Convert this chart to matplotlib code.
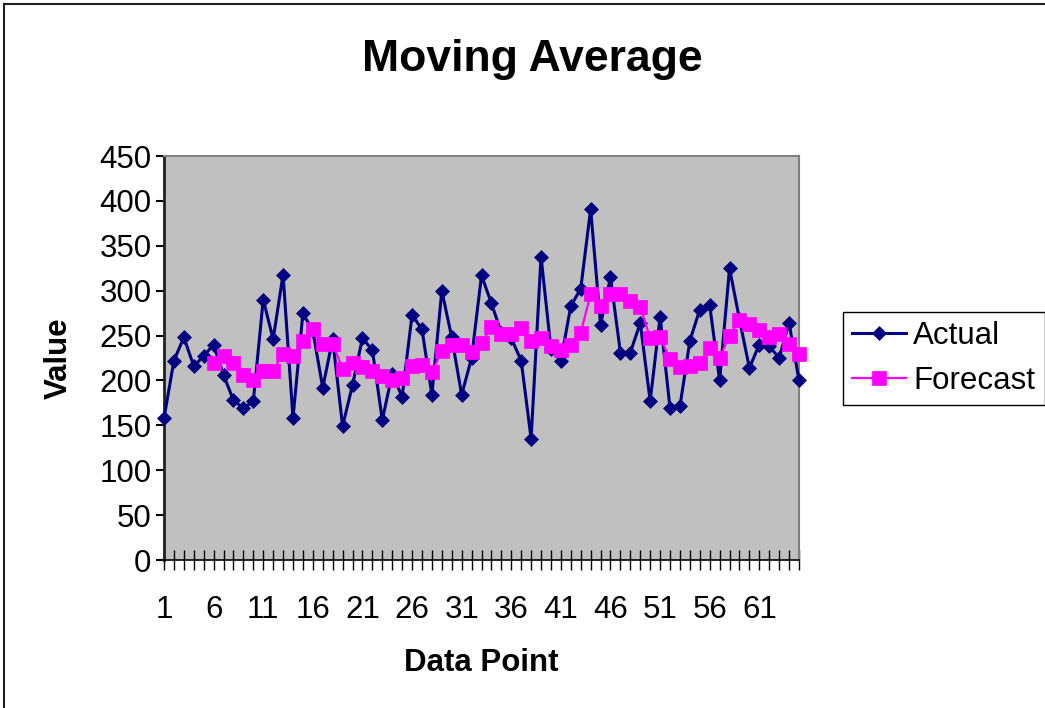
import matplotlib
matplotlib.use("Agg")
import matplotlib.pyplot as plt
import numpy as np
from matplotlib.patches import Rectangle

plt.rcParams["font.family"] = ["Liberation Sans", "DejaVu Sans"]

# observed series, data points 1..65
actual = [158, 222, 248, 216, 227, 240, 206, 178, 169, 177,
          290, 246, 318, 158, 275, 255, 192, 246, 149, 195,
          247, 234, 156, 207, 182, 273, 257, 184, 300, 248,
          184, 225, 317, 286, 253, 247, 222, 135, 338, 235,
          222, 283, 302, 391, 262, 315, 231, 231, 264, 177,
          271, 169, 171, 244, 279, 284, 200, 325, 268, 214,
          240, 238, 225, 264, 200]

# moving-average forecast, first value at data point 6
forecast_start = 6
forecast = [219, 227, 219, 206, 200, 210, 211, 230, 227, 244,
            257, 241, 241, 213, 219, 215, 211, 205, 200, 203,
            216, 217, 209, 233, 240, 240, 232, 242, 259, 252,
            252, 258, 244, 247, 238, 234, 240, 253, 296, 283,
            296, 296, 289, 282, 247, 248, 224, 215, 216, 219,
            236, 225, 250, 267, 263, 256, 248, 252, 241, 230]

y_ticks = list(range(0, 451, 50))
label_every = 5

x_actual = np.arange(1, len(actual) + 1)
x_forecast = np.arange(forecast_start, forecast_start + len(forecast))

FS = 22.5

fig = plt.figure(figsize=(10.45, 7.08), dpi=100)
ax = fig.add_axes([164 / 1045, 1 - 560 / 708, 635 / 1045, 404 / 708])
ax.set_facecolor("#c0c0c0")

ax.plot(x_actual, actual, color="#000080", linewidth=2.2, marker="D",
        markersize=7, markeredgewidth=0.5, label="Actual", zorder=3,
        clip_on=False)
ax.plot(x_forecast, forecast, color="#ff00ff", linewidth=1.6, marker="s",
        markersize=10.5, markeredgewidth=0.5, label="Forecast", zorder=4,
        clip_on=False)

ax.set_xlim(1, len(actual))
ax.set_ylim(0, 450)
ax.set_yticks(y_ticks)
ax.set_yticklabels([str(v) for v in y_ticks], fontsize=FS)
ax.set_xticks(x_actual)
ax.set_xticklabels([str(v) if (v - 1) % label_every == 0 else "" for v in x_actual],
                   fontsize=FS)
ax.tick_params(axis="x", direction="inout", length=14, width=1, pad=18.5,
               color="black")
ax.tick_params(axis="y", direction="out", length=6, width=1.5, pad=3,
               color="black")

for side in ("top", "right"):
    ax.spines[side].set_color("#808080")
    ax.spines[side].set_linewidth(1.5)
ax.spines["left"].set_color("#202020")
ax.spines["left"].set_linewidth(2)
ax.spines["bottom"].set_color("black")
ax.spines["bottom"].set_linewidth(1.2)

ax.set_xlabel("Data Point", fontsize=FS, fontweight="bold", labelpad=16)
ax.set_ylabel("Value", fontsize=FS, fontweight="bold", labelpad=18)
fig.text(532 / 1045, 1 - 60 / 708, "Moving Average", fontsize=32,
         fontweight="bold", ha="center", va="center")

leg = ax.legend(loc="upper left", bbox_to_anchor=(843 / 1045, 1 - 312 / 708),
                bbox_transform=fig.transFigure, fontsize=FS, frameon=True,
                fancybox=False, edgecolor="black", framealpha=1,
                handlelength=1.7, handletextpad=0.25, borderpad=0.3,
                labelspacing=0.46, borderaxespad=0)
leg.get_frame().set_linewidth(1)

# outer chart border, running off the right and bottom edges
fig.patches.append(Rectangle((4 / 1045, -0.05), 1.2, 1.05 - 4 / 708,
                             transform=fig.transFigure, fill=False,
                             edgecolor="#202020", linewidth=1.5))

fig.savefig("out.png", dpi=100)
